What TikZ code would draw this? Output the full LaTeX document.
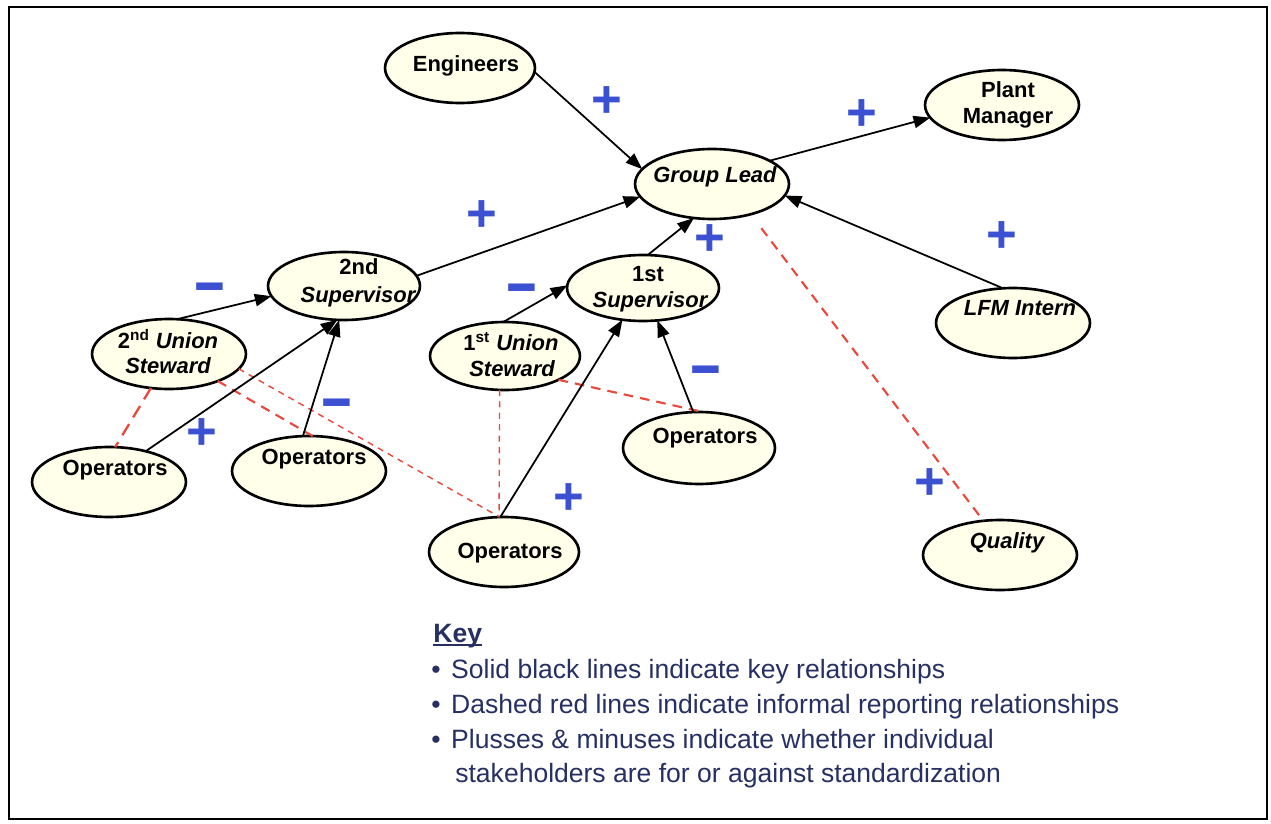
\documentclass[tikz,border=0pt]{standalone}
\usepackage{graphicx}
\usepackage{fontspec}
\setmainfont{Liberation Sans}
\usetikzlibrary{shapes.geometric,arrows.meta}
\definecolor{cream}{RGB}{255,255,234}
\definecolor{dashred}{RGB}{234,72,58}
\definecolor{signblue}{RGB}{60,80,210}
\definecolor{keyblue}{RGB}{38,48,98}
% underline drawn just below the baseline, crossing descenders
\newcommand\keyunderline[1]{\setbox0\hbox{#1}\rlap{\rule[-2pt]{\wd0}{1.1pt}}\box0}
% a minus sign with a heavier bar
\newcommand\heavyminus{\scalebox{1}[1.3]{−}}

\begin{document}
\begin{tikzpicture}[x=0.02cm,y=-0.02cm,
  el/.style 2 args={ellipse, draw, line width=1.5pt, fill=cream,
    minimum width=#1*0.04cm, minimum height=#2*0.04cm,
    inner sep=0pt, outer sep=0pt},
  lbl/.style={font=\fontsize{12.5}{14}\selectfont\bfseries, inner sep=0pt, anchor=base},
  sign/.style={font=\fontsize{30}{32}\selectfont\bfseries, text=signblue,
    inner sep=0pt, anchor=base},
  keytext/.style={font=\fontsize{15.1}{18}\selectfont, text=keyblue,
    inner sep=0pt, anchor=base west},
  arr/.style={-{Triangle[length=9.5pt,width=7pt]}, line width=1pt},
  dshA/.style={draw=dashred, line width=1.3pt, dash pattern=on 7.5pt off 4.5pt},
  dshB/.style={draw=dashred, line width=1.2pt, dash pattern=on 5.5pt off 4pt},
  dshC/.style={draw=dashred, line width=0.8pt, dash pattern=on 3.5pt off 3pt},
]
\useasboundingbox (0,0) rectangle (1271,824);
\fill[white] (0,0) rectangle (1271,824);
\draw[line width=1.4pt] (9,7) rectangle (1267,819);

% stakeholders
\node[el={75}{35}] (eng)  at (460,68)  {};
\node[el={77}{35}] (gl)   at (712,184) {};
\node[el={77}{35}] (pm)   at (1002,105) {};
\node[el={76}{34}] (sup2) at (344,286) {};
\node[el={76}{33}] (sup1) at (643,288) {};
\node[el={77}{35}] (us2)  at (169,354) {};
\node[el={75}{34}] (us1)  at (505,356) {};
\node[el={77}{35}] (lfm)  at (1013,323) {};
\node[el={77}{35}] (opL)  at (109,482) {};
\node[el={77}{35}] (op2)  at (309,471) {};
\node[el={75}{35}] (opB)  at (504,552) {};
\node[el={76}{36}] (opR)  at (699,448) {};
\node[el={77}{35}] (qual) at (1000,555) {};

% informal reporting relationships
\draw[dshB, shorten <=10pt] (gl.-38) -- (qual.116);
\draw[dshA] (us2.242) -- (opL.80);
\draw[dshB] (us2.331) -- (op2.84);
\draw[dshC] (us2.348) -- (opB.97);
\draw[dshC] (us1.261) -- (opB.98);
\draw[dshB] (us1.336) -- (opR.83);

% key relationships
\draw[arr] (eng.-3)   -- (gl.168);
\draw[arr] (gl.22)    -- (pm.190);
\draw[arr] (sup2.8)   -- (gl.190);
\draw[arr] (sup1.82)  -- (gl.242);
\draw[arr] (lfm.106)  -- (gl.-9);
\draw[arr] (us2.77)   -- (sup2.188);
\draw[arr] (opL.40)   -- (sup2.259);
\draw[arr] (op2.100)  -- (sup2.262);
\draw[arr] (us1.93)   -- (sup1.178);
\draw[arr] (opB.96)   -- (sup1.237);
\draw[arr] (opR.99)   -- (sup1.294);

% names
\node[lbl] (engT)   at (466,72)  {Engineers};
\node[lbl] (glT)    at (715,183) {\itshape Group Lead};
\node[lbl] (pmT1)   at (1008,98) {Plant};
\node[lbl] (pmT2)   at (1008,124) {Manager};
\node[lbl] (sup2T1) at (359,275) {2nd};
\node[lbl] (sup2T2) at (358,302) {\itshape Supervisor};
\node[lbl] (sup1T1) at (648,281) {1st};
\node[lbl] (sup1T2) at (650,307) {\itshape Supervisor};
\node[lbl] (us2T1)  at (168,348) {2\textsuperscript{nd} \itshape Union};
\node[lbl] (us2T2)  at (168,373) {\itshape Steward};
\node[lbl] (us1T1)  at (511,350) {1\textsuperscript{st} \itshape Union};
\node[lbl] (us1T2)  at (512,376) {\itshape Steward};
\node[lbl] (lfmT)   at (1020,316) {\itshape LFM Intern};
\node[lbl] (opLT)   at (115,475) {Operators};
\node[lbl] (op2T)   at (314,464) {Operators};
\node[lbl] (opBT)   at (510,558) {Operators};
\node[lbl] (opRT)   at (705,443) {Operators};
\node[lbl] (qualT)  at (1007,548) {\itshape Quality};

% for / against standardization
\node[sign] (p1)  at (607,117.5) {+};
\node[sign] (p2)  at (862,130.5) {+};
\node[sign] (p3)  at (482,231.5) {+};
\node[sign] (p4)  at (710,255.5) {+};
\node[sign] (p5)  at (1002,252.5) {+};
\node[sign] (p6)  at (202,449.5) {+};
\node[sign] (p7)  at (569,514.5) {+};
\node[sign] (p8)  at (930,499.5) {+};
\node[sign] (m1)  at (210,309.5) {\heavyminus};
\node[sign] (m2)  at (522,310.5) {\heavyminus};
\node[sign] (m3)  at (706,392.5) {\heavyminus};
\node[sign] (m4)  at (337,425.5) {\heavyminus};

% key
\node[keytext, font=\fontsize{15.1}{18}\selectfont\bfseries] (key) at (433,642) {\keyunderline{Key}};
\node[keytext] (k1) at (431,678) {\makebox[11.3pt][l]{•}Solid black lines indicate key relationships};
\node[keytext] (k2) at (431,713) {\makebox[11.3pt][l]{•}Dashed red lines indicate informal reporting relationships};
\node[keytext] (k3) at (431,748) {\makebox[11.3pt][l]{•}Plusses \& minuses indicate whether individual};
\node[keytext] (k4) at (455,782) {stakeholders are for or against standardization};
\end{tikzpicture}
\end{document}
